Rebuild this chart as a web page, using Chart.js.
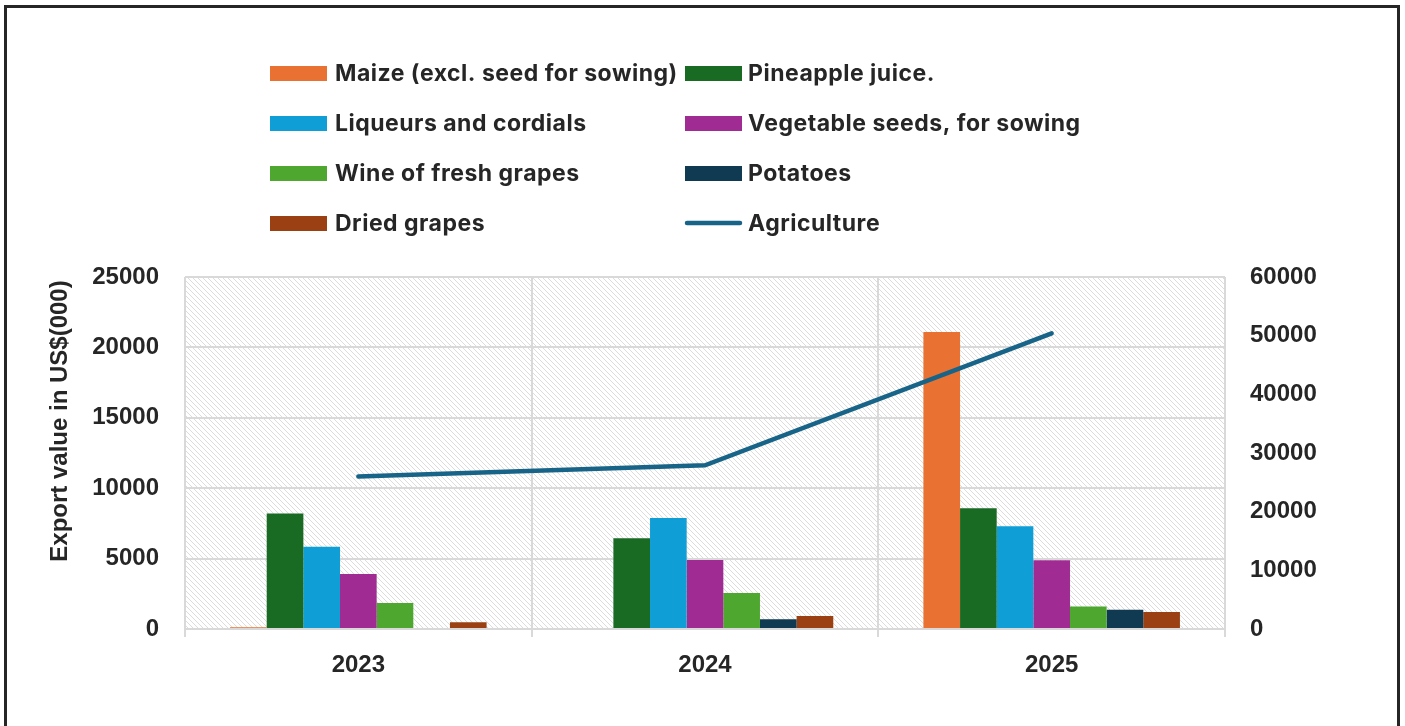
<!DOCTYPE html>
<html>
<head>
<meta charset="utf-8">
<title>Export value by product</title>
<script src="https://cdn.jsdelivr.net/npm/chart.js@4/dist/chart.umd.min.js"></script>
<style>
  html, body { margin: 0; padding: 0; background: #ffffff; overflow: hidden; }
  #frame { position: absolute; left: 4px; top: 5px; width: 1396px; height: 790px;
           border: 3px solid #262626; box-sizing: border-box; }
  #c { position: absolute; left: 0; top: 0; }
</style>
</head>
<body>
<div id="frame"></div>
<canvas id="c" width="1405" height="726"></canvas>
<script>
// Years on the category axis
const years = ['2023', '2024', '2025'];

// Product export values, US$(000) - left axis
const maize       = [130, 0, 21100];
const pineapple   = [8200, 6450, 8570];
const liqueurs    = [5850, 7880, 7290];
const vegSeeds    = [3900, 4900, 4880];
const wine        = [1850, 2550, 1590];
const potatoes    = [0, 690, 1370];
const driedGrapes = [475, 925, 1210];

// Total agriculture exports, US$(000) - right axis
const agriculture = [26000, 27900, 50400];

// Axis ranges and tick steps
const leftAxis  = { min: 0, max: 25000, step: 5000 };
const rightAxis = { min: 0, max: 60000, step: 10000 };

const yTitle = 'Export value in US$(000)';

const TEXT = '#262626';
const GRID = '#d9d9d9';
const TICK_FONT = { family: '"Liberation Sans", Arial, sans-serif', size: 24, weight: 'bold' };
const LEGEND_FONT = 'bold 23px Inter, "Open Sans", sans-serif';

// Diagonal hatch fill behind the plot area
const hatchPlugin = {
  id: 'hatch',
  beforeDraw(chart) {
    const { ctx, chartArea: a } = chart;
    const tile = document.createElement('canvas');
    tile.width = 5; tile.height = 5;
    const t = tile.getContext('2d');
    t.fillStyle = '#ffffff';
    t.fillRect(0, 0, 5, 5);
    t.fillStyle = '#dcdcdc';
    for (let i = 0; i < 5; i++) t.fillRect(i, i, 1, 1);
    ctx.save();
    ctx.fillStyle = ctx.createPattern(tile, 'repeat');
    ctx.fillRect(a.left, a.top, a.right - a.left, a.bottom - a.top);
    ctx.restore();
  }
};

// Two-column legend above the plot
const columnLegend = {
  id: 'columnLegend',
  afterDraw(chart) {
    const { ctx } = chart;
    const cols = [{ box: 270, text: 335 }, { box: 685, text: 748 }];
    const rowY = [73, 123, 173, 223];
    ctx.save();
    ctx.font = LEGEND_FONT;
    if ('letterSpacing' in ctx) ctx.letterSpacing = '0.5px';
    ctx.textBaseline = 'middle';
    ctx.textAlign = 'left';
    chart.data.datasets.forEach((ds, i) => {
      const col = cols[i % 2];
      const y = rowY[Math.floor(i / 2)];
      if (ds.type === 'line') {
        ctx.strokeStyle = ds.borderColor;
        ctx.lineWidth = 4.5;
        ctx.lineCap = 'round';
        ctx.beginPath();
        ctx.moveTo(col.box + 2, y);
        ctx.lineTo(col.box + 55, y);
        ctx.stroke();
      } else {
        ctx.fillStyle = ds.backgroundColor;
        ctx.fillRect(col.box, y - 7, 57, 15);
      }
      ctx.fillStyle = TEXT;
      ctx.fillText(ds.label, col.text, y + 1);
    });
    ctx.restore();
  }
};

// Rotated title for the left value axis
const axisTitle = {
  id: 'axisTitle',
  afterDraw(chart) {
    const { ctx } = chart;
    ctx.save();
    ctx.translate(60, 421);
    ctx.rotate(-Math.PI / 2);
    ctx.font = 'bold 24px "Liberation Sans", Arial, sans-serif';
    ctx.fillStyle = TEXT;
    ctx.textAlign = 'center';
    ctx.textBaseline = 'middle';
    ctx.fillText(yTitle, 0, 0);
    ctx.restore();
  }
};

function barSet(label, data, color) {
  return { type: 'bar', label, data, backgroundColor: color, borderWidth: 0,
           yAxisID: 'y', order: 2 };
}

new Chart(document.getElementById('c'), {
  data: {
    labels: years,
    datasets: [
      barSet('Maize (excl. seed for sowing)', maize, '#E97132'),
      barSet('Pineapple juice.', pineapple, '#196B24'),
      barSet('Liqueurs and cordials', liqueurs, '#0F9ED5'),
      barSet('Vegetable seeds, for sowing', vegSeeds, '#A02B93'),
      barSet('Wine of fresh grapes', wine, '#4EA72E'),
      barSet('Potatoes', potatoes, '#0F3A52'),
      barSet('Dried grapes', driedGrapes, '#9A4012'),
      { type: 'line', label: 'Agriculture', data: agriculture, yAxisID: 'y1',
        borderColor: '#186488', borderWidth: 4.5, borderCapStyle: 'round',
        pointRadius: 0, pointHoverRadius: 0, tension: 0, fill: false, order: 1 }
    ]
  },
  options: {
    responsive: false,
    animation: false,
    events: [],
    categoryPercentage: 0.74,
    barPercentage: 1.0,
    layout: { padding: { top: 277, left: 0, right: 0, bottom: 0 } },
    plugins: { legend: { display: false }, tooltip: { enabled: false } },
    scales: {
      x: {
        grid: { offset: true, color: GRID, lineWidth: 2, drawTicks: true, tickLength: 8 },
        border: { display: false },
        ticks: { font: TICK_FONT, color: TEXT, padding: 14 },
        afterFit(s) { s.height = 97; }
      },
      y: {
        position: 'left',
        min: leftAxis.min, max: leftAxis.max,
        ticks: { stepSize: leftAxis.step, font: TICK_FONT, color: TEXT, padding: 26,
                 callback: v => String(v) },
        grid: { color: GRID, lineWidth: 2, drawTicks: false },
        border: { display: false },
        afterFit(s) { s.width = 185; }
      },
      y1: {
        position: 'right',
        min: rightAxis.min, max: rightAxis.max,
        ticks: { stepSize: rightAxis.step, font: TICK_FONT, color: TEXT, padding: 25,
                 callback: v => String(v) },
        grid: { display: false, drawTicks: false },
        border: { display: false },
        afterFit(s) { s.width = 180; }
      }
    }
  },
  plugins: [hatchPlugin, columnLegend, axisTitle]
});
</script>
</body>
</html>
